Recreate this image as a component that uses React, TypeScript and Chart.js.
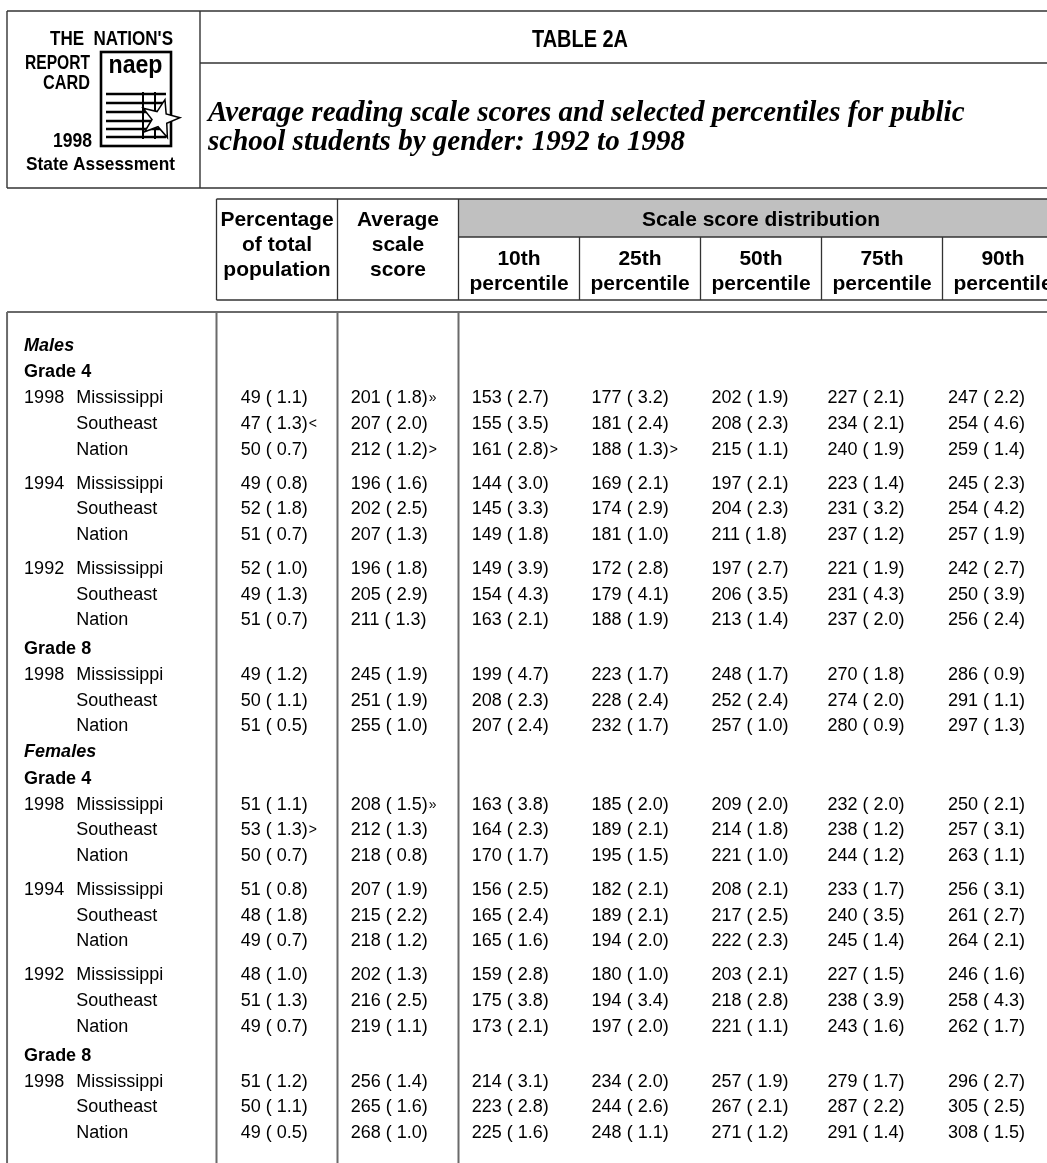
import React, { useEffect, useRef } from "react";
import { Chart, registerables } from "chart.js";

Chart.register(...registerables);

const W = 1047;
const H = 1163;

// ---------------- DATA ----------------
const sexLabels = ["Males", "Females"];
const gradeLabels = ["Grade 4", "Grade 8"];
const gradeYears = [["1998", "1994", "1992"], ["1998"]];
const jurisdictions = ["Mississippi", "Southeast", "Nation"];

const colHeaders = [
  ["Percentage", "of total", "population"],
  ["Average", "scale", "score"],
  ["10th", "percentile"],
  ["25th", "percentile"],
  ["50th", "percentile"],
  ["75th", "percentile"],
  ["90th", "percentile"],
];
const groupHeader = "Scale score distribution";

const tableTitle = "TABLE 2A";
const subtitleLines = [
  "Average reading scale scores and selected percentiles for public",
  "school students by gender: 1992 to 1998",
];

// rows: Males G4 1998/1994/1992, Males G8 1998, Females G4 1998/1994/1992, Females G8 1998
const pctTotal = [49, 47, 50, 49, 52, 51, 52, 49, 51, 49, 50, 51, 51, 53, 50, 51, 48, 49, 48, 51, 49, 51, 50, 49];
const pctTotalSE = [1.1, 1.3, 0.7, 0.8, 1.8, 0.7, 1.0, 1.3, 0.7, 1.2, 1.1, 0.5, 1.1, 1.3, 0.7, 0.8, 1.8, 0.7, 1.0, 1.3, 0.7, 1.2, 1.1, 0.5];
const pctTotalMarks = ["", "<", "", "", "", "", "", "", "", "", "", "", "", ">", "", "", "", "", "", "", "", "", "", ""];

const avgScore = [201, 207, 212, 196, 202, 207, 196, 205, 211, 245, 251, 255, 208, 212, 218, 207, 215, 218, 202, 216, 219, 256, 265, 268];
const avgScoreSE = [1.8, 2.0, 1.2, 1.6, 2.5, 1.3, 1.8, 2.9, 1.3, 1.9, 1.9, 1.0, 1.5, 1.3, 0.8, 1.9, 2.2, 1.2, 1.3, 2.5, 1.1, 1.4, 1.6, 1.0];
const avgScoreMarks = ["»", "", ">", "", "", "", "", "", "", "", "", "", "»", "", "", "", "", "", "", "", "", "", "", ""];

const p10 = [153, 155, 161, 144, 145, 149, 149, 154, 163, 199, 208, 207, 163, 164, 170, 156, 165, 165, 159, 175, 173, 214, 223, 225];
const p10SE = [2.7, 3.5, 2.8, 3.0, 3.3, 1.8, 3.9, 4.3, 2.1, 4.7, 2.3, 2.4, 3.8, 2.3, 1.7, 2.5, 2.4, 1.6, 2.8, 3.8, 2.1, 3.1, 2.8, 1.6];
const p10Marks = ["", "", ">", "", "", "", "", "", "", "", "", "", "", "", "", "", "", "", "", "", "", "", "", ""];

const p25 = [177, 181, 188, 169, 174, 181, 172, 179, 188, 223, 228, 232, 185, 189, 195, 182, 189, 194, 180, 194, 197, 234, 244, 248];
const p25SE = [3.2, 2.4, 1.3, 2.1, 2.9, 1.0, 2.8, 4.1, 1.9, 1.7, 2.4, 1.7, 2.0, 2.1, 1.5, 2.1, 2.1, 2.0, 1.0, 3.4, 2.0, 2.0, 2.6, 1.1];
const p25Marks = ["", "", ">", "", "", "", "", "", "", "", "", "", "", "", "", "", "", "", "", "", "", "", "", ""];

const p50 = [202, 208, 215, 197, 204, 211, 197, 206, 213, 248, 252, 257, 209, 214, 221, 208, 217, 222, 203, 218, 221, 257, 267, 271];
const p50SE = [1.9, 2.3, 1.1, 2.1, 2.3, 1.8, 2.7, 3.5, 1.4, 1.7, 2.4, 1.0, 2.0, 1.8, 1.0, 2.1, 2.5, 2.3, 2.1, 2.8, 1.1, 1.9, 2.1, 1.2];

const p75 = [227, 234, 240, 223, 231, 237, 221, 231, 237, 270, 274, 280, 232, 238, 244, 233, 240, 245, 227, 238, 243, 279, 287, 291];
const p75SE = [2.1, 2.1, 1.9, 1.4, 3.2, 1.2, 1.9, 4.3, 2.0, 1.8, 2.0, 0.9, 2.0, 1.2, 1.2, 1.7, 3.5, 1.4, 1.5, 3.9, 1.6, 1.7, 2.2, 1.4];

const p90 = [247, 254, 259, 245, 254, 257, 242, 250, 256, 286, 291, 297, 250, 257, 263, 256, 261, 264, 246, 258, 262, 296, 305, 308];
const p90SE = [2.2, 4.6, 1.4, 2.3, 4.2, 1.9, 2.7, 3.9, 2.4, 0.9, 1.1, 1.3, 2.1, 3.1, 1.1, 3.1, 2.7, 2.1, 1.6, 4.3, 1.7, 2.7, 2.5, 1.5];

// ---------------- LAYOUT ----------------
const COL_PX = 121; // one data column width
const COL0_PX = 216.5; // left edge of first data column
const ROW_PX = 25.7; // one row step
const ROW0_PX = 344; // first body row centre
const colTextOffset = [0.2, 0.11, 0.11, 0.1, 0.09, 0.05, 0.045];
const YEAR_X = -1.59;
const JUR_X = -1.16;
const HEAD_X = -1.59;
const FRAME_LEFT = -1.731;

const FONT = '"Liberation Sans", Arial, sans-serif';
const SERIF = '"Liberation Serif", "Times New Roman", serif';

type Row = { kind: string; text?: string; year?: string; jur?: string; idx?: number; slot: number };

function buildRows(): Row[] {
  const rows: Row[] = [];
  let slot = 0;
  let prev = "";
  let idx = 0;
  sexLabels.forEach((sex) => {
    if (prev) slot += 1.0;
    rows.push({ kind: "sex", text: sex, slot });
    prev = "sex";
    gradeLabels.forEach((g, gi) => {
      slot += prev === "sex" ? 1.05 : 1.13;
      rows.push({ kind: "grade", text: g, slot });
      prev = "grade";
      gradeYears[gi].forEach((yr, yi) => {
        jurisdictions.forEach((j, ji) => {
          slot += ji === 0 && yi > 0 ? 1.32 : 1.0;
          rows.push({ kind: "data", year: ji === 0 ? yr : "", jur: j, idx: idx++, slot });
        });
      });
      prev = "data";
    });
  });
  return rows;
}

const fmt = (v: number, se: number) => `${v} ( ${se.toFixed(1)})`;

function star(ctx: CanvasRenderingContext2D, cx: number, cy: number, r1: number, r2: number, rot: number) {
  ctx.beginPath();
  for (let i = 0; i < 10; i++) {
    const r = i % 2 === 0 ? r1 : r2;
    const a = rot + (i * Math.PI) / 5 - Math.PI / 2;
    const x = cx + r * Math.cos(a);
    const y = cy + r * Math.sin(a);
    if (i === 0) ctx.moveTo(x, y);
    else ctx.lineTo(x, y);
  }
  ctx.closePath();
}

function line(ctx: CanvasRenderingContext2D, x1: number, y1: number, x2: number, y2: number) {
  ctx.beginPath();
  ctx.moveTo(x1, y1);
  ctx.lineTo(x2, y2);
  ctx.stroke();
}

const tablePlugin = {
  id: "tableText",
  beforeDatasetsDraw(chart: any) {
    const ctx: CanvasRenderingContext2D = chart.ctx;
    const xs = chart.scales.x;
    const cx = (u: number) => xs.getPixelForValue(u);
    ctx.save();
    ctx.fillStyle = "#fff";
    ctx.fillRect(0, 0, W, H);

    // ---- header box with logo ----
    ctx.strokeStyle = "#333";
    ctx.lineWidth = 1.4;
    line(ctx, 7, 11, W, 11);
    line(ctx, 7, 11, 7, 188);
    line(ctx, 200, 11, 200, 188);
    line(ctx, 7, 188, W, 188);
    line(ctx, 200, 63, W, 63);

    // logo texts
    ctx.fillStyle = "#000";
    ctx.font = `bold 20px ${FONT}`;
    ctx.textBaseline = "alphabetic";
    ctx.textAlign = "right";
    ctx.fillText("THE  NATION'S", 173, 45, 123);
    ctx.fillText("REPORT", 90, 69, 65);
    ctx.fillText("CARD", 90, 89, 47);
    ctx.fillText("1998", 92, 147, 39);
    ctx.textAlign = "center";
    ctx.font = `bold 19px ${FONT}`;
    ctx.fillText("State Assessment", 100.5, 170, 149);

    // report card icon
    ctx.lineWidth = 2.6;
    ctx.strokeStyle = "#000";
    ctx.strokeRect(101, 52, 70, 94);
    ctx.font = `bold 25px ${FONT}`;
    ctx.fillText("naep", 135.5, 73, 54);
    ctx.lineWidth = 2.4;
    [94, 103, 112, 121, 129, 137].forEach((y) => line(ctx, 106, y, 166, y));
    ctx.lineWidth = 2;
    line(ctx, 143, 92, 143, 139);
    line(ctx, 155, 92, 155, 139);
    star(ctx, 160, 119, 20, 8, 0.25);
    ctx.fillStyle = "#fff";
    ctx.fill();
    ctx.lineWidth = 1.5;
    ctx.stroke();

    // title
    ctx.fillStyle = "#000";
    ctx.font = `bold 24px ${FONT}`;
    ctx.textAlign = "center";
    ctx.fillText(tableTitle, 580, 47, 96);
    ctx.font = `italic bold 29px ${SERIF}`;
    ctx.textAlign = "left";
    ctx.fillText(subtitleLines[0], 208, 121);
    ctx.fillText(subtitleLines[1], 208, 150);

    // ---- table column header ----
    ctx.fillStyle = "#c0c0c0";
    ctx.fillRect(cx(2), 199, W - cx(2), 38);
    ctx.strokeStyle = "#333";
    ctx.lineWidth = 1.3;
    line(ctx, cx(0), 199, W, 199);
    line(ctx, cx(2), 237, W, 237);
    line(ctx, cx(0), 300, W, 300);
    [0, 1, 2].forEach((c) => line(ctx, cx(c), 199, cx(c), 300));
    [3, 4, 5, 6].forEach((c) => line(ctx, cx(c), 237, cx(c), 300));

    ctx.fillStyle = "#000";
    ctx.font = `bold 21px ${FONT}`;
    ctx.textAlign = "center";
    ctx.fillText(groupHeader, cx(4.5), 226);
    colHeaders.forEach((lines, c) => {
      const ys = lines.length === 3 ? [226, 251, 276] : [265, 290];
      lines.forEach((t, k) => ctx.fillText(t, cx(c + 0.5), ys[k]));
    });

    // ---- body frame ----
    ctx.strokeStyle = "#6a6a6a";
    ctx.lineWidth = 2;
    line(ctx, cx(FRAME_LEFT), 312, W, 312);
    [FRAME_LEFT, 0, 1, 2].forEach((c) => line(ctx, cx(c), 312, cx(c), H));
    ctx.restore();
  },
  afterDatasetsDraw(chart: any) {
    const ctx: CanvasRenderingContext2D = chart.ctx;
    chart.data.datasets.forEach((ds: any, i: number) => {
      const meta = chart.getDatasetMeta(i);
      ctx.save();
      ctx.fillStyle = "#000";
      ctx.textAlign = "left";
      ctx.textBaseline = "alphabetic";
      meta.data.forEach((el: any, j: number) => {
        const t = ds.texts[j];
        if (!t) return;
        const x = el.x;
        const y = el.y + 6.5;
        ctx.font = ds.font;
        ctx.fillText(t, x, y);
        const m = ds.marks ? ds.marks[j] : "";
        if (m) {
          const w = ctx.measureText(t).width;
          ctx.font = `14px ${FONT}`;
          ctx.fillText(m, x + w + 1, y - 1);
        }
      });
      ctx.restore();
    });
  },
};

export default function App() {
  const ref = useRef<HTMLCanvasElement>(null);
  useEffect(() => {
    if (!ref.current) return;
    const rows = buildRows();
    const dataRows = rows.filter((r) => r.kind === "data");
    const headRows = rows.filter((r) => r.kind !== "data");

    const columns = [
      { v: pctTotal, se: pctTotalSE, marks: pctTotalMarks },
      { v: avgScore, se: avgScoreSE, marks: avgScoreMarks },
      { v: p10, se: p10SE, marks: p10Marks },
      { v: p25, se: p25SE, marks: p25Marks },
      { v: p50, se: p50SE, marks: null },
      { v: p75, se: p75SE, marks: null },
      { v: p90, se: p90SE, marks: null },
    ];

    const base = { showLine: false, pointRadius: 0, pointHoverRadius: 0, borderWidth: 0 };
    const datasets: any[] = columns.map((col, c) => ({
      ...base,
      label: colHeaders[c].join(" "),
      data: dataRows.map((r) => ({ x: c + colTextOffset[c], y: r.slot })),
      texts: dataRows.map((r) => fmt(col.v[r.idx!], col.se[r.idx!])),
      marks: col.marks ? dataRows.map((r) => col.marks![r.idx!]) : null,
      font: `18px ${FONT}`,
    }));
    datasets.push({
      ...base,
      label: "year",
      data: dataRows.map((r) => ({ x: YEAR_X, y: r.slot })),
      texts: dataRows.map((r) => r.year),
      font: `18px ${FONT}`,
    });
    datasets.push({
      ...base,
      label: "jurisdiction",
      data: dataRows.map((r) => ({ x: JUR_X, y: r.slot })),
      texts: dataRows.map((r) => r.jur),
      font: `18px ${FONT}`,
    });
    datasets.push({
      ...base,
      label: "sex",
      data: headRows.filter((r) => r.kind === "sex").map((r) => ({ x: HEAD_X, y: r.slot })),
      texts: headRows.filter((r) => r.kind === "sex").map((r) => r.text),
      font: `italic bold 18px ${FONT}`,
    });
    datasets.push({
      ...base,
      label: "grade",
      data: headRows.filter((r) => r.kind === "grade").map((r) => ({ x: HEAD_X, y: r.slot })),
      texts: headRows.filter((r) => r.kind === "grade").map((r) => r.text),
      font: `bold 18px ${FONT}`,
    });

    const chart = new Chart(ref.current, {
      type: "scatter",
      data: { datasets },
      options: {
        animation: false,
        responsive: false,
        events: [],
        layout: { padding: 0 },
        plugins: { legend: { display: false }, tooltip: { enabled: false } },
        scales: {
          x: { type: "linear", display: false, bounds: "data", min: -COL0_PX / COL_PX, max: (W - COL0_PX) / COL_PX },
          y: {
            type: "linear",
            display: false,
            bounds: "data",
            reverse: true,
            min: -ROW0_PX / ROW_PX,
            max: (H - ROW0_PX) / ROW_PX,
          },
        },
      },
      plugins: [tablePlugin],
    } as any);
    return () => chart.destroy();
  }, []);

  return (
    <div style={{ position: "absolute", left: 0, top: 0, width: W, height: H, background: "#fff" }}>
      <canvas ref={ref} width={W} height={H} style={{ display: "block" }} />
    </div>
  );
}
